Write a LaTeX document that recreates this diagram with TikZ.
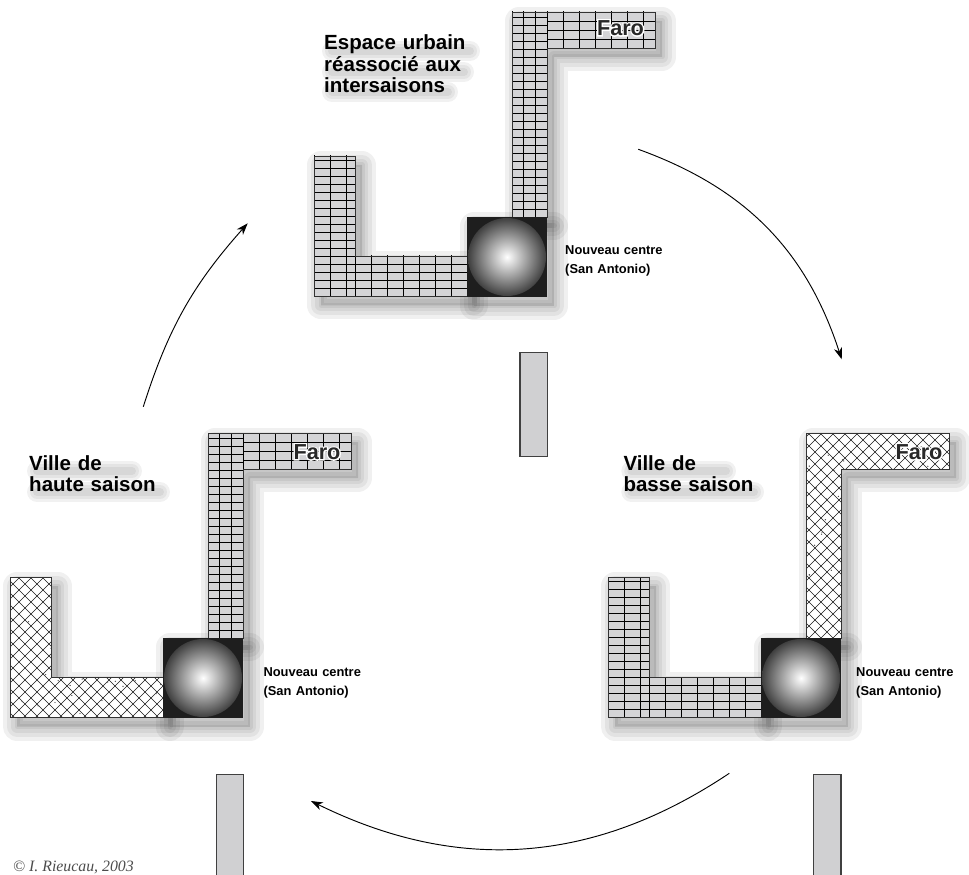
\documentclass[tikz,border=0pt]{standalone}
\usepackage{fontspec}
\setmainfont{Liberation Sans}
\newfontfamily\creditfont{Liberation Serif}
\newfontfamily\halofont{Liberation Sans}[BoldFeatures={FakeBold=12}]
\usepackage{tikz}
\usetikzlibrary{arrows.meta}

\definecolor{gridgray}{RGB}{212,212,214}
\definecolor{bargray}{RGB}{208,208,210}
\definecolor{sqblack}{RGB}{30,30,30}
\definecolor{farogray}{RGB}{40,40,40}

\tikzset{
  gridline/.style={draw=black, line width=0.45pt},
  hatchline/.style={draw=black!90, line width=0.4pt},
  outline/.style={draw=black!80, line width=0.6pt},
  titletext/.style={font=\bfseries\fontsize{17.5}{18}\selectfont, align=left, text width=7cm, inner sep=0pt, anchor=base west},
  centretext/.style={font=\bfseries\fontsize{11}{16.5}\selectfont, align=left, text width=4cm, inner sep=0pt, anchor=base west},
  farotext/.style={font=\bfseries\fontsize{18.5}{18.5}\selectfont, text=farogray, inner sep=0pt},
  farohalo/.style={font=\halofont\bfseries\fontsize{18.5}{18.5}\selectfont, text=white, inner sep=0pt},
  cycarrow/.style={-{Stealth[length=10pt,width=7pt,inset=3pt]}, line width=0.8pt},
  barbox/.style={fill=bargray, draw=black!75, line width=0.9pt}
}

% soft shadow under a closed path
\newcommand{\softshadow}[1]{%
  \begin{scope}[shift={(7,-9)}]
    \fill[black, opacity=0.12] #1;
    \foreach \w in {28,20,12,5}
      \draw[black, opacity=0.06, line width=\w*0.03cm, line join=round] #1;
  \end{scope}}

% blurred band under one line of a title
\newcommand{\titleglow}[3]{%
  \foreach \w in {20,14,8}
    \draw[black, opacity=0.055, line width=\w*0.03cm, line cap=round] (#1+8,#3) -- (#2,#3);}

% grey brick grid in a rectangle
\newcommand{\gridpiece}[6]{%
  \begin{scope}[shift={(#1,#2)}]
    \fill[gridgray] (0,0) rectangle (#3-#1,#4-#2);
    \clip (0,0) rectangle (#3-#1,#4-#2);
    \draw[gridline, xstep=#5, ystep=#6] (0,0) grid (#3-#1+1,#4-#2+1);
  \end{scope}}

% white cross hatch with dots
\newcommand{\hatchfill}[1]{%
  \begin{scope}
    \clip #1;
    \fill[white] #1;
    \foreach \k in {-25,...,35} {
      \draw[hatchline] (\k*12-300,-300) -- ++(700,700);
      \draw[hatchline] (\k*12+300,-300) -- ++(-700,700);
    }
    \pgfmathsetseed{11}
    \foreach \i in {1,...,220}
      \fill[black!70] ({15+175*rand},{65+145*rand}) circle (0.7);
  \end{scope}
  \draw[outline] #1;}

\newcommand{\uppergrid}{%
  \gridpiece{45}{0}{80}{205}{0.35cm}{0.24cm}
  \gridpiece{80}{169}{188}{205}{0.48cm}{0.27cm}
  \draw[outline] (45,0) -- (45,205) -- (188,205) -- (188,169) -- (80,169) -- (80,0) -- cycle;}
\newcommand{\lowergrid}{%
  \gridpiece{-153}{-79.5}{-112}{61}{0.48cm}{0.24cm}
  \gridpiece{-112}{-79.5}{0}{-39}{0.48cm}{0.24cm}
  \draw[outline] (-153,61) -- (-112,61) -- (-112,-39) -- (0,-39) -- (0,-79.5) -- (-153,-79.5) -- cycle;}
\newcommand{\upperhatch}{\hatchfill{(45,0) -- (45,205) -- (188,205) -- (188,169) -- (80,169) -- (80,0) -- cycle}}
\newcommand{\lowerhatch}{\hatchfill{(-153,61) -- (-112,61) -- (-112,-39) -- (0,-39) -- (0,-79.5) -- (-153,-79.5) -- cycle}}

% one town: upper L, lower L and the new centre
\newcommand{\cityblock}[4]{%
  \begin{scope}[shift={(#1,#2)}]
    \softshadow{(45,0) -- (45,205) -- (188,205) -- (188,169) -- (80,169) -- (80,0) -- cycle}
    \softshadow{(-153,61) -- (-112,61) -- (-112,-39) -- (0,-39) -- (0,-79.5) -- (-153,-79.5) -- cycle}
    \softshadow{(0,0) rectangle (80,-80)}
    #3
    #4
    \fill[sqblack] (0,0) rectangle (80,-80);
    \shade[inner color=white, outer color=black!75] (40,-40) circle (39);
  \end{scope}}

\begin{document}
\begin{tikzpicture}[x=0.03cm, y=0.03cm]
    \useasboundingbox (0,0) rectangle (969,-875);
    % the three towns
    \cityblock{467}{-217}{\uppergrid}{\lowergrid}
    \cityblock{163}{-638}{\uppergrid}{\lowerhatch}
    \cityblock{761}{-638}{\upperhatch}{\lowergrid}
    % bars
    \draw[barbox] (520,-352.7) rectangle (547.7,-456.7);
    \draw[barbox] (216.7,-774.3) rectangle (243.3,-885);
    \draw[barbox] (813.3,-774.3) rectangle (841,-885);
    % title shadows
    \titleglow{324}{470}{-51}
    \titleglow{324}{464}{-72}
    \titleglow{324}{448}{-92}
    \titleglow{29}{132}{-471}
    \titleglow{29}{160}{-492}
    \titleglow{623.3}{726}{-471}
    \titleglow{623.3}{754}{-492}
    % texts
    \node[titletext] (ID_T-1) at (324,-50) {Espace urbain\\réassocié aux\\intersaisons};
    \node[titletext] (ID_T-2) at (29,-470) {Ville de\\haute saison};
    \node[titletext] (ID_T-3) at (623.3,-470) {Ville de\\basse saison};
    \node[farohalo] (ID_Halo-1) at (620.5,-28) {Faro};
    \node[farohalo] (ID_Halo-2) at (317,-452) {Faro};
    \node[farohalo] (ID_Halo-3) at (919,-452) {Faro};
    \node[farotext] (ID_Faro-1) at (ID_Halo-1) {Faro};
    \node[farotext] (ID_Faro-2) at (ID_Halo-2) {Faro};
    \node[farotext] (ID_Faro-3) at (ID_Halo-3) {Faro};
    \node[centretext] (ID_C-1) at (565,-254.5) {Nouveau centre\\(San Antonio)};
    \node[centretext] (ID_C-2) at (263.3,-676) {Nouveau centre\\(San Antonio)};
    \node[centretext] (ID_C-3) at (856,-676) {Nouveau centre\\(San Antonio)};
    \node[anchor=base west, inner sep=0pt, font=\creditfont\itshape\fontsize{13.5}{13.5}\selectfont, text=black!70] (ID_Credit) at (13,-871) {© I. Rieucau, 2003};
    % cycle arrows
    \coordinate (ID_A-1s) at (143.3,-406.7);
    \coordinate (ID_A-1e) at (247.7,-223.3);
    \coordinate (ID_A-2s) at (638.3,-149.3);
    \coordinate (ID_A-2e) at (841.7,-359.3);
    \coordinate (ID_A-3s) at (729.3,-773.3);
    \coordinate (ID_A-3e) at (311,-801);
    \draw[cycarrow] (ID_A-1s) to[bend left=12] (ID_A-1e);
    \draw[cycarrow] (ID_A-2s) to[bend left=26] (ID_A-2e);
    \draw[cycarrow] (ID_A-3s) to[bend left=30] (ID_A-3e);
\end{tikzpicture}
\end{document}
